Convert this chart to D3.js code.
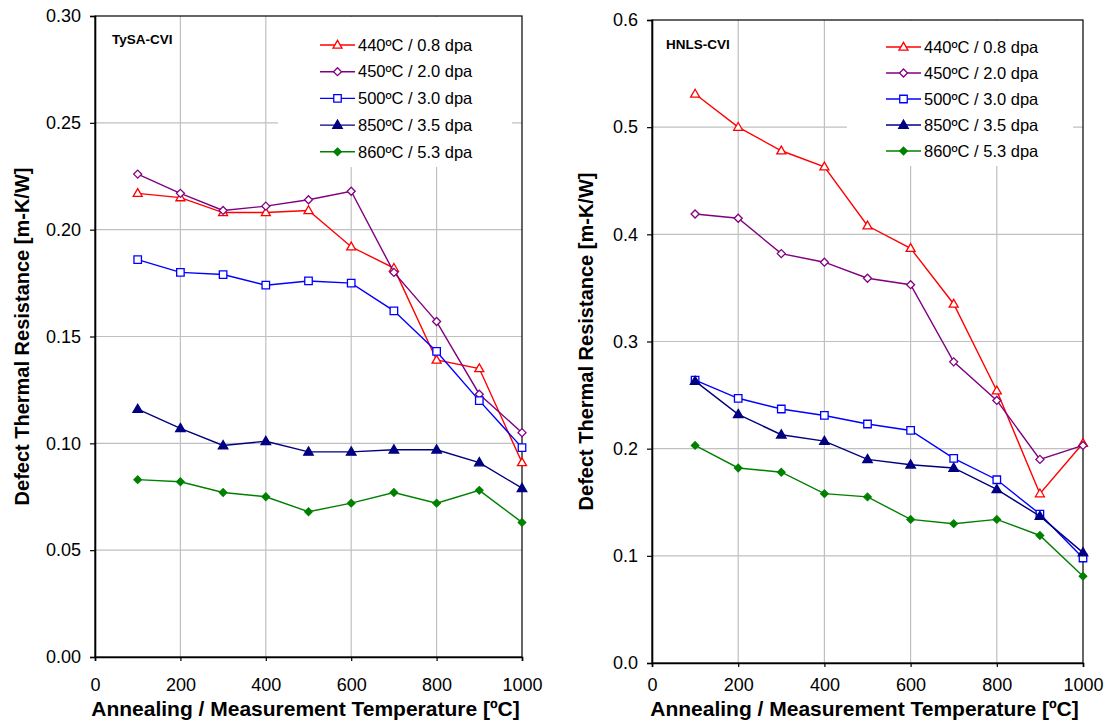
<!DOCTYPE html>
<html>
<head>
<meta charset="utf-8">
<script src="https://cdn.jsdelivr.net/npm/d3@7"></script>
<style>
  body { margin: 0; background: #fff; }
  svg text { font-family: Arial, "Liberation Sans", sans-serif; fill: #000; }
</style>
</head>
<body>
<div id="chart"></div>
<script>
// Shared x values and legend labels
const temps = [100, 200, 300, 400, 500, 600, 700, 800, 900, 1000];
const seriesLabels = ["440ºC / 0.8 dpa", "450ºC / 2.0 dpa", "500ºC / 3.0 dpa", "850ºC / 3.5 dpa", "860ºC / 5.3 dpa"];
const xTicks = [0, 200, 400, 600, 800, 1000];

// TySA-CVI panel values
const tysa440 = [0.217, 0.215, 0.208, 0.208, 0.209, 0.192, 0.182, 0.139, 0.135, 0.091];
const tysa450 = [0.226, 0.217, 0.209, 0.211, 0.214, 0.218, 0.180, 0.157, 0.123, 0.105];
const tysa500 = [0.186, 0.180, 0.179, 0.174, 0.176, 0.175, 0.162, 0.143, 0.120, 0.098];
const tysa850 = [0.116, 0.107, 0.099, 0.101, 0.096, 0.096, 0.097, 0.097, 0.091, 0.079];
const tysa860 = [0.083, 0.082, 0.077, 0.075, 0.068, 0.072, 0.077, 0.072, 0.078, 0.063];
const tysaYTicks = [0, 0.05, 0.10, 0.15, 0.20, 0.25, 0.30];

// HNLS-CVI panel values
const hnls440 = [0.531, 0.500, 0.478, 0.463, 0.408, 0.387, 0.335, 0.254, 0.158, 0.205];
const hnls450 = [0.419, 0.415, 0.382, 0.374, 0.359, 0.353, 0.281, 0.245, 0.190, 0.203];
const hnls500 = [0.264, 0.247, 0.237, 0.231, 0.223, 0.217, 0.191, 0.171, 0.139, 0.098];
const hnls850 = [0.263, 0.232, 0.213, 0.207, 0.190, 0.185, 0.182, 0.162, 0.137, 0.103];
const hnls860 = [0.203, 0.182, 0.178, 0.158, 0.155, 0.134, 0.130, 0.134, 0.119, 0.081];
const hnlsYTicks = [0, 0.1, 0.2, 0.3, 0.4, 0.5, 0.6];

const colors = ["#ff0000", "#800080", "#0000ff", "#000080", "#008000"];
const markers = ["triangle", "diamond", "square", "triangle", "diamond"];
const filled = [false, false, false, true, true];
const markerSize = [9, 8, 7.5, 9.5, 7.5];

const svg = d3.select("#chart").append("svg")
    .attr("width", 1113)
    .attr("height", 725);

// Marker path centred on 0,0
function markerPath(type, s) {
    const h = s / 2;
    if (type === "triangle") {
        const t = s * 0.866;
        return `M0,${-t * 0.6}L${h},${t * 0.4}L${-h},${t * 0.4}Z`;
    }
    if (type === "diamond") return `M0,${-h}L${h},0L0,${h}L${-h},0Z`;
    return `M${-h},${-h}H${h}V${h}H${-h}Z`;
}

function drawPanel(p) {
    const g = svg.append("g");

    const x = d3.scaleLinear().domain([0, 1000]).range([p.left, p.right]);
    const y = d3.scaleLinear().domain([0, p.yMax]).range([p.bottom, p.top]);

    // Gridlines
    g.selectAll(".hgrid")
        .data(p.yTicks.slice(1, -1))
        .enter().append("line")
        .attr("x1", p.left).attr("x2", p.right)
        .attr("y1", d => y(d)).attr("y2", d => y(d))
        .attr("stroke", "#c0c0c0").attr("stroke-width", 1.2);
    g.selectAll(".vgrid")
        .data(xTicks.slice(1, -1))
        .enter().append("line")
        .attr("x1", d => x(d)).attr("x2", d => x(d))
        .attr("y1", p.top).attr("y2", p.bottom)
        .attr("stroke", "#c0c0c0").attr("stroke-width", 1.2);

    // Frame
    g.append("rect")
        .attr("x", p.left).attr("y", p.top)
        .attr("width", p.right - p.left).attr("height", p.bottom - p.top)
        .attr("fill", "none").attr("stroke", "#000").attr("stroke-width", 1.2);

    // Legend background and panel title background
    g.append("rect")
        .attr("x", p.legend.boxX).attr("y", p.top + 1)
        .attr("width", p.legend.boxW).attr("height", p.legend.boxH)
        .attr("fill", "#fff");

    const title = g.append("text")
        .attr("x", p.titleX).attr("y", p.titleY)
        .attr("dy", "0.35em")
        .style("font-size", "13.5px").style("font-weight", "bold")
        .text(p.title);
    const tb = title.node().getBBox();
    g.insert("rect", "text")
        .attr("x", tb.x - 3).attr("y", tb.y - 4)
        .attr("width", tb.width + 6).attr("height", tb.height + 8)
        .attr("fill", "#fff");

    // Axes
    const yAxis = g.append("g")
        .attr("transform", `translate(${p.left},0)`)
        .call(d3.axisLeft(y).tickValues(p.yTicks).tickFormat(d3.format(p.yFormat))
            .tickSize(5).tickPadding(9));
    const xAxis = g.append("g")
        .attr("transform", `translate(0,${p.bottom})`)
        .call(d3.axisBottom(x).tickValues(xTicks).tickFormat(d3.format("d"))
            .tickSize(4).tickPadding(p.xPad));
    [yAxis, xAxis].forEach(a => {
        a.select(".domain").attr("stroke", "#000").attr("stroke-width", 1.6);
        a.selectAll(".tick line").attr("stroke", "#000").attr("stroke-width", 1.2);
        a.selectAll(".tick text")
            .style("font-size", "18px")
            .style("font-family", "Arial, 'Liberation Sans', sans-serif")
            .attr("fill", "#111");
    });

    // Axis titles
    g.append("text")
        .attr("x", (p.left + p.right) / 2 - 3)
        .attr("y", 716)
        .attr("text-anchor", "middle")
        .style("font-size", "21px").style("font-weight", "bold")
        .text("Annealing / Measurement Temperature [ºC]");
    g.append("text")
        .attr("transform", `translate(${p.yTitleX},${(p.top + p.bottom) / 2}) rotate(-90)`)
        .attr("text-anchor", "middle")
        .style("font-size", "20px").style("font-weight", "bold")
        .text("Defect Thermal Resistance [m-K/W]");

    // Series lines and markers
    const line = d3.line()
        .x((d, i) => x(temps[i]))
        .y(d => y(d));

    p.series.forEach((vals, k) => {
        g.append("path")
            .datum(vals)
            .attr("fill", "none")
            .attr("stroke", colors[k])
            .attr("stroke-width", 1.4)
            .attr("d", line);
        g.selectAll(null)
            .data(vals)
            .enter().append("path")
            .attr("transform", (d, i) => `translate(${x(temps[i])},${y(d)})`)
            .attr("d", markerPath(markers[k], markerSize[k]))
            .attr("fill", filled[k] ? colors[k] : "#fff")
            .attr("stroke", colors[k])
            .attr("stroke-width", 1.3);
    });

    // Legend
    const lg = g.append("g");
    seriesLabels.forEach((label, k) => {
        const ly = p.legend.y0 + k * p.legend.dy;
        lg.append("line")
            .attr("x1", p.legend.lineX).attr("x2", p.legend.lineX + 35)
            .attr("y1", ly).attr("y2", ly)
            .attr("stroke", colors[k]).attr("stroke-width", 1.4);
        lg.append("path")
            .attr("transform", `translate(${p.legend.lineX + 17.5},${ly})`)
            .attr("d", markerPath(markers[k], markerSize[k]))
            .attr("fill", filled[k] ? colors[k] : "#fff")
            .attr("stroke", colors[k])
            .attr("stroke-width", 1.3);
        lg.append("text")
            .attr("x", p.legend.textX).attr("y", ly)
            .attr("dy", "0.35em")
            .style("font-size", "16.5px")
            .attr("fill", "#111")
            .text(label);
    });
}

drawPanel({
    left: 95, right: 522, top: 16, bottom: 657,
    yMax: 0.30, yTicks: tysaYTicks, yFormat: ".2f", xPad: 17,
    title: "TySA-CVI", titleX: 112, titleY: 39,
    yTitleX: 29,
    series: [tysa440, tysa450, tysa500, tysa850, tysa860],
    legend: { boxX: 278, boxW: 234, boxH: 150, lineX: 320, textX: 358, y0: 45, dy: 26.7 }
});

drawPanel({
    left: 652, right: 1083, top: 20, bottom: 663,
    yMax: 0.6, yTicks: hnlsYTicks, yFormat: ".1f", xPad: 11,
    title: "HNLS-CVI", titleX: 666, titleY: 44.5,
    yTitleX: 593,
    series: [hnls440, hnls450, hnls500, hnls850, hnls860],
    legend: { boxX: 847, boxW: 226, boxH: 145, lineX: 886, textX: 924, y0: 47, dy: 26 }
});
</script>
</body>
</html>
